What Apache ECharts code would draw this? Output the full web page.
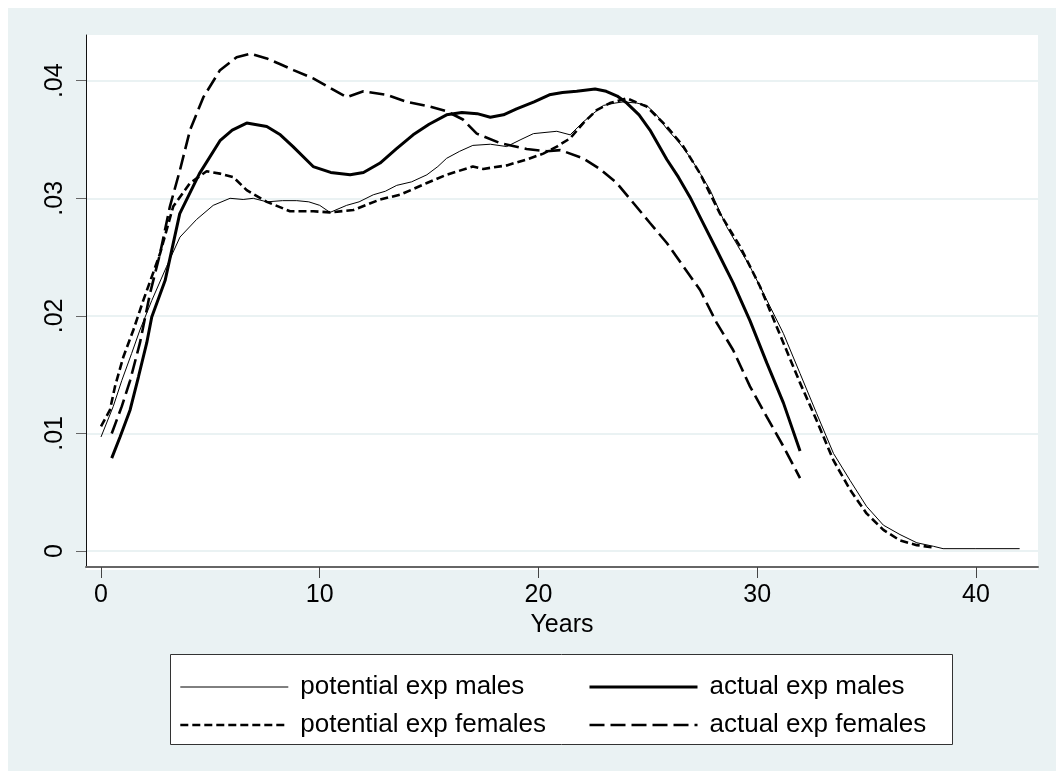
<!DOCTYPE html>
<html>
<head>
<meta charset="utf-8">
<script src="https://cdn.jsdelivr.net/npm/echarts@6/dist/echarts.min.js"></script>
<style>
html,body{margin:0;padding:0;background:#fff;}
#c{width:1056px;height:771px;}
</style>
</head>
<body>
<div id="c"></div>
<script>
const xTicks = [0, 10, 20, 30, 40];
const yTicks = [0, 0.01, 0.02, 0.03, 0.04];
const yTickLabels = ['0', '.01', '.02', '.03', '.04'];
const xTitle = 'Years';
const seriesNames = ['potential exp males', 'actual exp males', 'potential exp females', 'actual exp females'];

const pmX = [0, 0.56, 0.95, 1.4, 1.78, 2.32, 3.0, 3.61, 4.37, 5.13, 5.9, 6.5, 6.96, 7.58, 8.3, 8.95, 9.5, 10.0, 10.47, 11.23, 11.8, 12.45, 13.0, 13.52, 14.2, 14.9, 15.4, 15.8, 16.4, 17.0, 17.8, 18.55, 19.2, 19.77, 20.3, 20.84, 21.45, 22.05, 22.5, 22.97, 23.5, 23.88, 24.5, 24.95, 25.4, 25.87, 26.4, 26.93, 27.4, 27.85, 28.6, 29.1, 29.67, 30.4, 31.2, 31.96, 32.72, 33.49, 34.25, 35.0, 35.77, 36.53, 37.3, 38.06, 38.5, 40, 42];
const pmY = [0.0097, 0.0123, 0.0145, 0.0168, 0.0188, 0.0213, 0.0242, 0.0267, 0.0282, 0.0294, 0.0300, 0.0299, 0.0300, 0.0297, 0.0298, 0.0298, 0.0297, 0.0294, 0.0288, 0.0294, 0.0297, 0.0303, 0.0306, 0.0311, 0.0314, 0.0320, 0.0327, 0.0334, 0.0340, 0.0345, 0.0346, 0.0344, 0.0350, 0.0355, 0.0356, 0.0357, 0.0354, 0.0365, 0.0372, 0.0379, 0.0381, 0.0382, 0.0381, 0.0379, 0.0371, 0.0359, 0.0348, 0.0335, 0.0321, 0.0307, 0.0276, 0.0260, 0.0242, 0.0215, 0.0185, 0.0151, 0.0117, 0.0083, 0.0060, 0.0038, 0.0022, 0.0014, 0.0007, 0.0004, 0.0002, 0.0002, 0.0002];

const amX = [0.49, 0.87, 1.33, 1.71, 2.09, 2.32, 2.93, 3.6, 4.5, 5.44, 6.0, 6.66, 7.58, 8.2, 8.78, 9.7, 10.5, 11.39, 12.0, 12.76, 13.5, 14.27, 15.0, 15.8, 16.5, 17.2, 17.8, 18.4, 19.0, 19.8, 20.5, 21.1, 21.75, 22.59, 23.1, 23.6, 24.04, 24.6, 25.1, 25.87, 26.4, 26.93, 27.5, 28.15, 28.9, 29.67, 30.44, 31.2, 31.96];
const amY = [0.0079, 0.0097, 0.0120, 0.0148, 0.0177, 0.0199, 0.0230, 0.0287, 0.0321, 0.0349, 0.0358, 0.0364, 0.0361, 0.0354, 0.0344, 0.0327, 0.0322, 0.0320, 0.0322, 0.0330, 0.0342, 0.0354, 0.0363, 0.0371, 0.0373, 0.0372, 0.0369, 0.0371, 0.0376, 0.0382, 0.0388, 0.0390, 0.0391, 0.0393, 0.0391, 0.0387, 0.0381, 0.0371, 0.0358, 0.0333, 0.0318, 0.0301, 0.0280, 0.0256, 0.0228, 0.0196, 0.0160, 0.0126, 0.0085];

const pfX = [0, 0.41, 0.64, 1.02, 1.48, 1.93, 2.7, 3.3, 4.07, 4.83, 5.44, 6.05, 6.66, 7.58, 8.64, 9.71, 10.47, 11.54, 12.76, 13.67, 14.9, 15.8, 17.0, 17.48, 18.55, 19.46, 20.22, 20.84, 21.45, 22.05, 22.66, 23.27, 24.04, 24.95, 25.87, 26.63, 27.39, 28.3, 29.22, 30.13, 31.2, 31.96, 32.72, 33.49, 34.25, 35.0, 35.77, 36.53, 37.3, 38.06];
const pfY = [0.0106, 0.0120, 0.0140, 0.0165, 0.0188, 0.0213, 0.0253, 0.0293, 0.0313, 0.0323, 0.0321, 0.0318, 0.0307, 0.0297, 0.0289, 0.0289, 0.0288, 0.0290, 0.0299, 0.0303, 0.0313, 0.0320, 0.0327, 0.0325, 0.0328, 0.0333, 0.0338, 0.0344, 0.0351, 0.0364, 0.0375, 0.0381, 0.0385, 0.0378, 0.0361, 0.0344, 0.0321, 0.0287, 0.0259, 0.0225, 0.0177, 0.0143, 0.0111, 0.0077, 0.0052, 0.0032, 0.0018, 0.0009, 0.0005, 0.0003];

const afX = [0.49, 0.95, 1.33, 1.78, 2.24, 2.7, 3.15, 3.61, 4.07, 4.68, 5.44, 6.2, 6.81, 7.58, 8.2, 8.8, 9.7, 10.47, 11.23, 12.0, 13.06, 13.98, 15.04, 15.8, 16.55, 17.18, 18.24, 19.46, 20.38, 21.0, 22.05, 22.8, 23.58, 24.34, 25.1, 25.87, 26.63, 27.39, 28.15, 28.9, 29.67, 30.44, 31.2, 31.96];
const afY = [0.0100, 0.0123, 0.0145, 0.0177, 0.0219, 0.0253, 0.0293, 0.0324, 0.0358, 0.0386, 0.0409, 0.0420, 0.0423, 0.0419, 0.0414, 0.0409, 0.0402, 0.0394, 0.0386, 0.0391, 0.0388, 0.0382, 0.0378, 0.0374, 0.0367, 0.0355, 0.0347, 0.0342, 0.0340, 0.0341, 0.0334, 0.0325, 0.0313, 0.0296, 0.0279, 0.0262, 0.0242, 0.0222, 0.0194, 0.0171, 0.0140, 0.0114, 0.0089, 0.0062];

function pairs(xs, ys) { return xs.map((x, i) => [x, ys[i]]); }

const FONT = "'Liberation Sans', Arial, sans-serif";
const BG = '#EAF2F3';

const chart = echarts.init(document.getElementById('c'), null, { renderer: 'canvas' });

const styles = [
  { width: 1, type: 'solid' },
  { width: 3, type: 'solid' },
  { width: 2.6, type: [8, 4] },
  { width: 2.6, type: [15, 6] }
];

function lineSeries(i, data) {
  return {
    name: seriesNames[i], type: 'line', data: data, showSymbol: false, symbol: 'none',
    smooth: false, animation: false,
    lineStyle: { color: '#000', width: styles[i].width, type: styles[i].type, cap: 'butt' },
    itemStyle: { color: '#000' },
    z: 3
  };
}

function legendItem(i) {
  return {
    name: seriesNames[i],
    lineStyle: { color: '#000', width: styles[i].width, type: styles[i].type, cap: 'butt' },
    itemStyle: { color: 'transparent', borderWidth: 0, opacity: 0 }
  };
}

const legendText = { fontFamily: FONT, fontSize: 26, color: '#000', lineHeight: 26, padding: [0, 0, 0, 7] };
const legendCommon = {
  orient: 'vertical', top: 669, itemWidth: 108, itemHeight: 14, itemGap: 12,
  textStyle: legendText, selectedMode: false, z: 5,
  itemStyle: { color: 'transparent', borderWidth: 0, opacity: 0 }
};

chart.setOption({
  backgroundColor: '#fff',
  animation: false,
  graphic: [
    { type: 'rect', z: -10, shape: { x: 8, y: 8, width: 1048, height: 763 }, style: { fill: BG } },
    { type: 'rect', z: -9, shape: { x: 86, y: 35, width: 952, height: 535 }, style: { fill: '#fff' } },
    { type: 'rect', z: 0, shape: { x: 170.5, y: 654.5, width: 782, height: 90 }, style: { fill: '#fff', stroke: '#333', lineWidth: 1 } }
  ],
  grid: { left: 86, top: 35, width: 952, height: 532, containLabel: false },
  xAxis: {
    type: 'value', min: -0.686, max: 42.84,
    name: xTitle, nameLocation: 'middle', nameGap: 43,
    nameTextStyle: { fontFamily: FONT, fontSize: 25, color: '#000' },
    axisLine: { show: true, onZero: false, lineStyle: { color: '#666', width: 2 } },
    axisTick: { show: true, inside: false, length: 11, customValues: xTicks, lineStyle: { color: '#444', width: 1 } },
    axisLabel: { show: true, margin: 16, customValues: xTicks, fontFamily: FONT, fontSize: 25, color: '#000', formatter: v => String(v) },
    splitLine: { show: false }
  },
  yAxis: {
    type: 'value', min: -0.00136, max: 0.04389,
    axisLine: { show: true, onZero: false, lineStyle: { color: '#111', width: 1 } },
    axisTick: { show: true, inside: false, length: 10, customValues: yTicks, lineStyle: { color: '#666', width: 1 } },
    axisLabel: {
      show: true, margin: 18, rotate: 90, customValues: yTicks,
      fontFamily: FONT, fontSize: 25, color: '#000',
      formatter: v => { const i = yTicks.findIndex(t => Math.abs(t - v) < 1e-9); return i >= 0 ? yTickLabels[i] : ''; }
    },
    splitLine: { show: true, lineStyle: { color: BG, width: 2 } }
  },
  legend: [
    Object.assign({ left: 174, data: [legendItem(0), legendItem(2)] }, legendCommon),
    Object.assign({ left: 583, data: [legendItem(1), legendItem(3)] }, legendCommon)
  ],
  series: [
    lineSeries(0, pairs(pmX, pmY)),
    lineSeries(1, pairs(amX, amY)),
    lineSeries(2, pairs(pfX, pfY)),
    lineSeries(3, pairs(afX, afY))
  ]
});
</script>
</body>
</html>
